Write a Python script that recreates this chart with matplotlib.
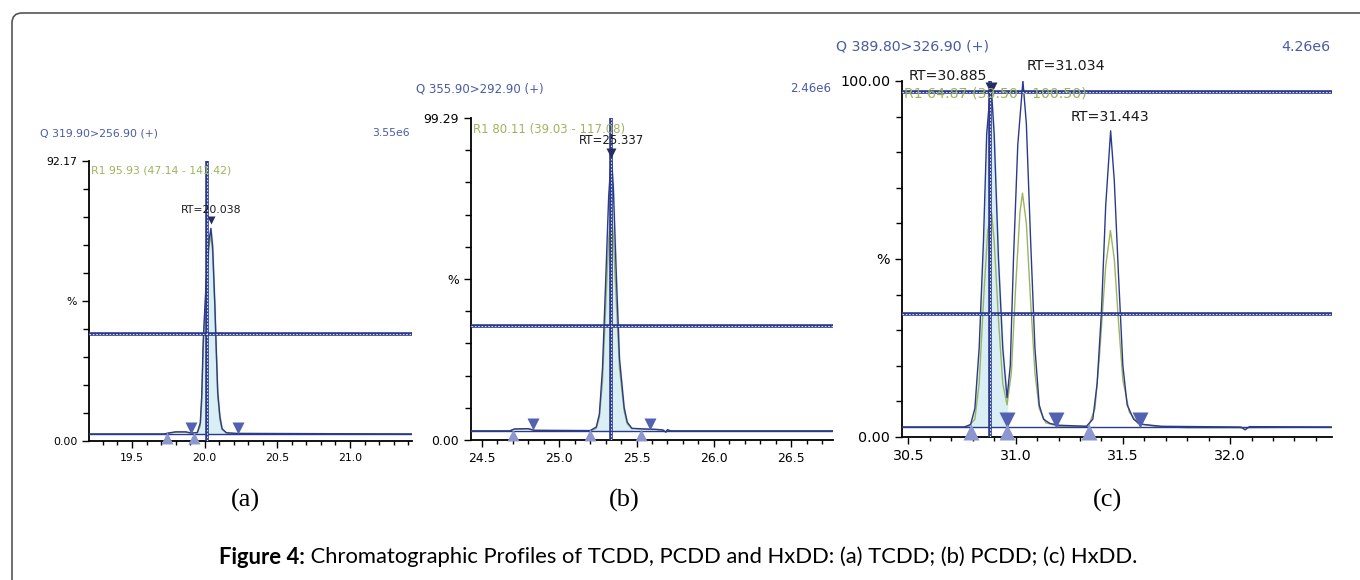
import numpy as np
import matplotlib
matplotlib.use('Agg')
import matplotlib.pyplot as plt
from matplotlib.patches import FancyBboxPatch

# --- data (time / min, intensity / %) ---

# (a) TCDD
ta = [19.20, 19.72, 19.76, 19.80, 19.87, 19.91, 19.95, 19.97, 19.98, 19.99, 20.01, 20.03, 20.043,
      20.055, 20.07, 20.08, 20.09, 20.105, 20.12, 20.15, 20.22, 21.43]
ya = [2.3, 2.3, 2.7, 3.0, 3.0, 2.6, 2.8, 6, 15, 33, 52, 66, 70, 64, 45, 30, 16, 8, 4, 2.7, 2.5, 2.3]
ga = [2.3, 2.3, 2.6, 2.9, 2.9, 2.5, 2.7, 5, 13, 30, 50, 64, 68, 62, 44, 29, 15, 7, 3.8, 2.6, 2.4, 2.3]

# (b) PCDD
tb = [24.43, 24.68, 24.71, 24.80, 24.84, 25.20, 25.24, 25.26, 25.28, 25.30, 25.32, 25.337, 25.35,
      25.37, 25.39, 25.42, 25.44, 25.47, 25.55, 25.62, 25.67, 25.69, 25.70, 25.72, 26.77]
yb = [2.8, 2.8, 3.4, 3.5, 3.0, 2.9, 4, 8, 22, 48, 75, 88, 78, 50, 25, 10, 5.5, 3.6, 3.4, 3.3, 3.1,
      2.4, 3.2, 2.8, 2.8]
gb = [2.8, 2.8, 3.3, 3.4, 2.9, 2.8, 3.6, 7, 18, 40, 62, 70, 63, 42, 22, 9, 5, 3.5, 3.3, 3.2, 3.0,
      2.5, 3.1, 2.8, 2.8]

# (c) HxDD
tc = [30.47, 30.76, 30.79, 30.81, 30.83, 30.85, 30.865, 30.885, 30.90, 30.92, 30.94, 30.96, 30.975,
      30.99, 31.01, 31.034, 31.05, 31.07, 31.09, 31.11, 31.13, 31.16, 31.20, 31.33, 31.36, 31.38,
      31.40, 31.42, 31.443, 31.46, 31.48, 31.50, 31.52, 31.55, 31.58, 31.68, 32.05, 32.07, 32.09, 32.475]
yc = [2.8, 2.8, 3.5, 8, 25, 55, 85, 99.5, 85, 50, 25, 11, 20, 50, 82, 100, 88, 55, 25, 9, 5, 3.8,
      3.3, 3.0, 5, 15, 35, 65, 86, 72, 45, 20, 9, 5, 3.6, 3.0, 2.8, 2.0, 2.9, 2.8]
tcg = [30.47, 30.78, 30.81, 30.83, 30.85, 30.87, 30.888, 30.90, 30.92, 30.94, 30.96, 30.98, 31.00,
       31.02, 31.032, 31.05, 31.07, 31.09, 31.11, 31.14, 31.20, 31.34, 31.37, 31.39, 31.42, 31.442,
       31.46, 31.48, 31.50, 31.53, 31.57, 31.65, 31.80, 32.05, 32.475]
gc = [2.8, 2.8, 5, 15, 38, 58, 63, 55, 33, 15, 9, 18, 42, 63, 68.5, 60, 38, 18, 8, 4, 3, 3, 8, 22,
      48, 58, 50, 32, 16, 7, 3.8, 3.0, 2.6, 2.6, 2.8]

panels = [
    dict(t=ta, y=ya, g=ga, xlim=(19.204, 21.426), top=92.17, ticks=[19.5, 20.0, 20.5, 21.0],
         title='Q 319.90>256.90 (+)', scale='3.55e6', r1='R1 95.93 (47.14 - 141.42)',
         base=2.3, hline=[35.2], vline=20.013, fill=(19.93, 20.22),
         down=[19.906, 20.229], up=[19.74, 19.926],
         rt=[('RT=20.038', 20.043, 76, 'center')], apex=[(20.043, 72.7)],
         rect=[0.0654, 0.2397, 0.2375, 0.4828], fs=7.8, tfs=7.8, ms=8, label='(a)', lx=245,
         qx=40, qy=133),
    dict(t=tb, y=yb, g=gb, xlim=(24.43, 26.77), top=99.29, ticks=[24.5, 25.0, 25.5, 26.0, 26.5],
         title='Q 355.90>292.90 (+)', scale='2.46e6', r1='R1 80.11 (39.03 - 117.08)',
         base=2.8, hline=[35.2], vline=25.336, fill=(25.20, 25.53),
         down=[24.83, 25.59], up=[24.70, 25.20, 25.53],
         rt=[('RT=25.337', 25.337, 92.2, 'center')], apex=[(25.337, 88.5)],
         rect=[0.3463, 0.2414, 0.2662, 0.5552], fs=8.5, tfs=8.9, ms=9, label='(b)', lx=624,
         qx=416, qy=89),
    dict(t=tc, y=yc, g=gc, tg=tcg, xlim=(30.47, 32.475), top=100.00, ticks=[30.5, 31.0, 31.5, 32.0],
         title='Q 389.80>326.90 (+)', scale='4.26e6', r1='R1 64.87 (33.50 - 100.50)',
         base=2.8, hline=[34.5, 97.0], vline=30.88, fill=(30.79, 30.96),
         down=[30.96, 31.19, 31.58], up=[30.79, 30.96, 31.34],
         rt=[('RT=30.885', 30.865, 101.5, 'right'), ('RT=31.034', 31.05, 104.3, 'left'),
             ('RT=31.443', 31.44, 89.8, 'center')], apex=[(30.885, 98)],
         rect=[0.6632, 0.2466, 0.3162, 0.6138], fs=10.2, tfs=10.3, ms=11, label='(c)', lx=1108,
         qx=836, qy=47),
]

navy = '#2b3a8c'
txtblue = '#4a5ba3'
green = '#9cb55c'
tri_dark = '#5361b2'
tri_light = '#8c96cf'

fig = plt.figure(figsize=(13.6, 5.8), dpi=100)

# rounded frame (only top/left edges visible)
fig.patches.append(FancyBboxPatch((0.12, -1.0), 20, 5.8 - 0.13 + 1.0,
                                  boxstyle='round,pad=0,rounding_size=0.1',
                                  transform=fig.dpi_scale_trans, fc='none', ec='#555555', lw=1.2))


def dashed_line(ax, x, y):
    ax.plot(x, y, color=navy, lw=2.6, solid_capstyle='butt', zorder=4)
    ax.plot(x, y, color='white', lw=0.6, ls=(0, (2, 2)), zorder=5)


for p in panels:
    ax = fig.add_axes(p['rect'])
    x0, x1 = p['xlim']
    top = p['top']
    ax.set_xlim(x0, x1)
    ax.set_ylim(0, top)
    for s in ['top', 'right']:
        ax.spines[s].set_visible(False)
    ax.spines['left'].set_linewidth(1.3)
    ax.spines['bottom'].set_linewidth(1.3)

    ax.set_xticks(p['ticks'])
    ax.set_xticklabels(['%.1f' % v for v in p['ticks']], fontsize=p['tfs'])
    ax.set_xticks(np.arange(np.ceil(x0 * 10) / 10, x1, 0.1), minor=True)
    ax.set_yticks([0, top / 2, top])
    ax.set_yticklabels(['0.00', '%', '%.2f' % top], fontsize=p['tfs'])
    ax.set_yticks(np.linspace(0, top, 11), minor=True)
    ax.tick_params(which='major', length=5, width=1)
    ax.tick_params(which='minor', length=3, width=1)
    ax.tick_params(axis='y', which='minor', length=4)

    tg = p.get('tg', p['t'])
    t = np.array(p['t'])
    y = np.array(p['y'])
    m = (t >= p['fill'][0]) & (t <= p['fill'][1])
    ax.fill_between(t[m], p['base'], y[m], color='#d9eef5', zorder=1)
    ax.plot(tg, p['g'], color=green, lw=1.0, zorder=2)
    ax.plot(t, y, color=navy, lw=1.0, zorder=3)
    ax.axhline(p['base'], color=navy, lw=1.0, zorder=3)

    for h in p['hline']:
        dashed_line(ax, [x0, x1], [h, h])
    dashed_line(ax, [p['vline'], p['vline']], [0, top])

    ax.plot(p['down'], [p['base'] + 2.0] * len(p['down']), 'v', color=tri_dark, ms=p['ms'],
            mec='none', clip_on=False, zorder=6)
    ax.plot(p['up'], [p['base'] - 1.3] * len(p['up']), '^', color=tri_light, ms=p['ms'],
            mec='none', clip_on=False, zorder=6)
    for xa, ya_ in p['apex']:
        ax.plot(xa, ya_, 'v', color='#252d66', ms=p['ms'] * 0.8, mec='none', zorder=7, clip_on=False)

    for s, xt, yt, ha in p['rt']:
        ax.text(xt, yt, s, ha=ha, va='center', fontsize=p['fs'], color='#1a1a1a', zorder=8)
    ax.text(0.005, 0.965, p['r1'], transform=ax.transAxes, ha='left', va='center',
            fontsize=p['fs'], color=green, zorder=8)

    # channel title and full-scale value above the axes
    fig.text(p['qx'] / 1360, 1 - p['qy'] / 580, p['title'], ha='left', va='center',
             fontsize=p['fs'], color=txtblue)
    fig.text(p['rect'][0] + p['rect'][2] - 2 / 1360, 1 - p['qy'] / 580, p['scale'],
             ha='right', va='center', fontsize=p['fs'], color=txtblue)

    fig.text(p['lx'] / 1360, 1 - 500 / 580, p['label'], ha='center', va='center',
             fontsize=19, family='Liberation Serif')

# caption: bold lead + regular text, centred
cy = 1 - 557 / 580
r = fig.canvas.get_renderer()
t1 = fig.text(0, cy, 'Figure 4:', fontsize=15.8, weight='bold', family='Lato', va='center')
t2 = fig.text(0, cy, ' Chromatographic Profiles of TCDD, PCDD and HxDD: (a) TCDD; (b) PCDD; (c) HxDD.',
              fontsize=15.8, family='Lato', va='center')
w1 = t1.get_window_extent(r).width
w2 = t2.get_window_extent(r).width
start = 678 - (w1 + w2) / 2
t1.set_x(start / 1360)
t2.set_x((start + w1) / 1360)

fig.savefig('out.png', dpi=100)
